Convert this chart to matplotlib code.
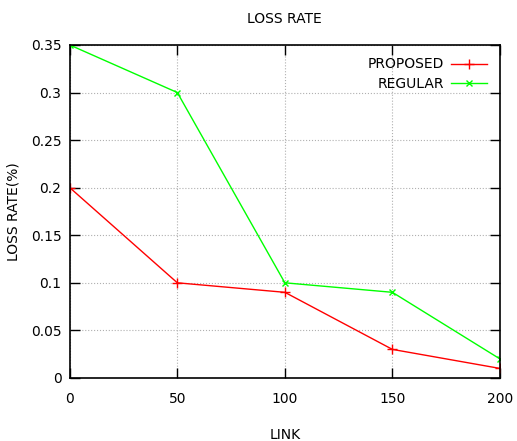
import matplotlib
matplotlib.use('Agg')
import matplotlib.pyplot as plt

# dados
links = [0, 50, 100, 150, 200]
proposed = [0.2, 0.1, 0.09, 0.03, 0.01]
regular = [0.35, 0.3, 0.1, 0.09, 0.02]
xticks = [0, 50, 100, 150, 200]
yticks = [0, 0.05, 0.1, 0.15, 0.2, 0.25, 0.3, 0.35]
ytick_labels = ['0', '0.05', '0.1', '0.15', '0.2', '0.25', '0.3', '0.35']

plt.rcParams['font.family'] = ['DejaVu Sans']

fig = plt.figure(figsize=(5.17, 4.41), dpi=100)
ax = fig.add_axes([0.135, 0.143, 0.832, 0.755])

ax.plot(links, proposed, color='#ff0000', marker='+', markersize=7, linewidth=1, label='PROPOSED')
ax.plot(links, regular, color='#00ff00', marker='x', markersize=5, linewidth=1, label='REGULAR')

ax.set_xlim(0, 200)
ax.set_ylim(0, 0.35)
ax.set_xticks(xticks)
ax.set_yticks(yticks)
ax.set_yticklabels(ytick_labels)
ax.tick_params(direction='in', length=7, width=1, top=True, right=True, labelsize=10, pad=6)
ax.tick_params(axis='x', pad=10)
ax.grid(True, linestyle=':', color='#b0b0b0', linewidth=0.8)
for s in ax.spines.values():
    s.set_linewidth(1.2)
    s.set_color('#000000')

ax.set_title('LOSS RATE', fontsize=10, pad=16)
ax.set_xlabel('LINK', fontsize=10, labelpad=16)
ax.set_ylabel('LOSS RATE(%)', fontsize=10)
ax.yaxis.set_label_coords(-0.115, 0.5)

ax.legend(loc='upper right', frameon=False, markerfirst=False, fontsize=10,
          handlelength=2.6, handletextpad=0.5, labelspacing=0.4, borderaxespad=0.5)

fig.savefig('out.png', dpi=100)
